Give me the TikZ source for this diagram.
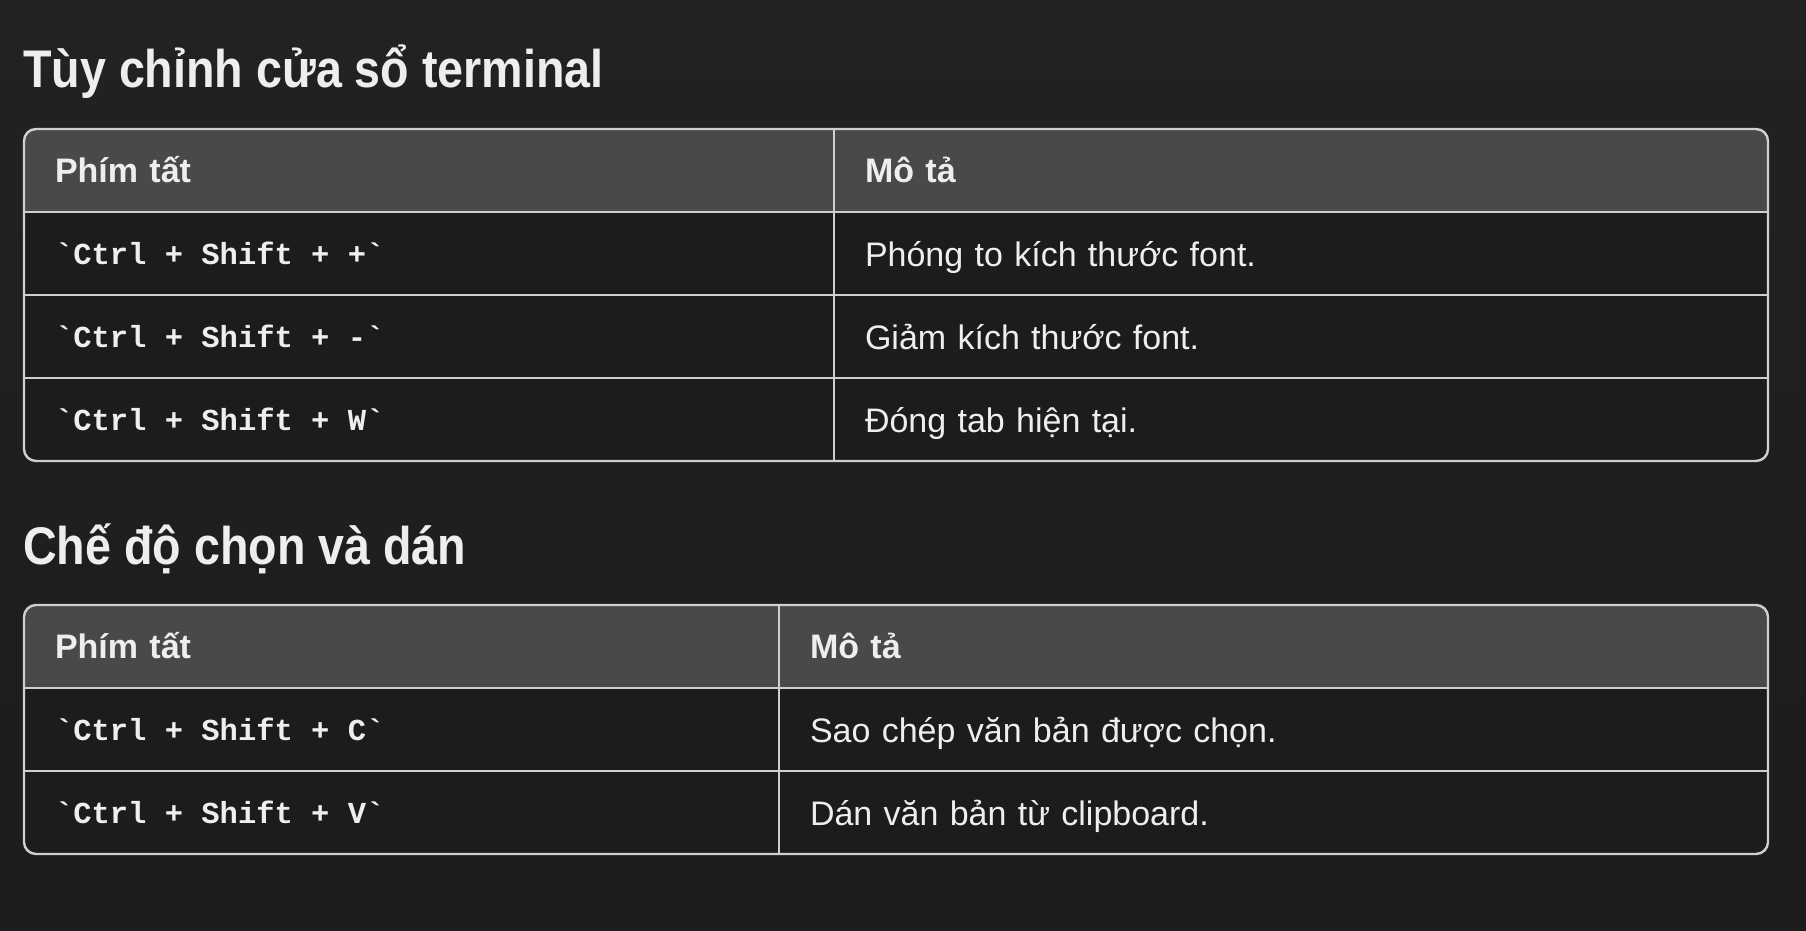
\documentclass[tikz,border=0pt]{standalone}
\usepackage{fontspec}
\setmainfont{Liberation Sans}
\setmonofont{Liberation Mono}
\newfontfamily\headfont[FakeStretch=0.88]{Liberation Sans}
\usepackage{xcolor}
\usetikzlibrary{positioning}

\definecolor{pagetop}{HTML}{222222}
\definecolor{pagebot}{HTML}{1C1C1C}
\definecolor{headbg}{HTML}{494949}
\definecolor{rowbg}{HTML}{1C1C1C}
\definecolor{rule}{HTML}{CFCFCF}
\definecolor{ink}{HTML}{EEEEEE}

% one full monospace cell between the parts of a shortcut
\newcommand{\ks}{\hspace*{0.6em}}

\begin{document}
\begin{tikzpicture}[
            x=1pt, y=-1pt,
            title/.style={anchor=base west, inner sep=0pt, text=ink,
                font=\headfont\bfseries\fontsize{53}{60}\selectfont},
            cell/.style={anchor=north west, inner xsep=31pt, inner ysep=0pt, outer sep=0pt,
                minimum height=83pt, align=left, text=ink, text depth=0pt},
            headcell/.style={cell, fill=headbg, text height=24pt,
                font=\bfseries\fontsize{34}{40}\selectfont},
            desccell/.style={cell, fill=rowbg, text height=25pt,
                font=\fontsize{34}{41}\selectfont},
            keycell/.style={cell, fill=rowbg, text height=22pt,
                font=\ttfamily\bfseries\fontsize{30.5}{36}\selectfont},
            gridline/.style={draw=rule, line width=2.4pt},
        ]
            \shade[top color=pagetop, bottom color=pagebot] (0,0) rectangle (1806,931);
            \useasboundingbox (0,0) rectangle (1806,931);

            % first table
            \node[title] (title1) at (23,88) {Tùy chỉnh cửa sổ terminal};
            \coordinate (t1nw) at (24,129);
            \coordinate (t1se) at (1768,461);
            \begin{scope}
                \clip[rounded corners=12pt] (t1nw) rectangle (t1se);
                \node[headcell, minimum width=810pt, text width=748pt] (t1h1) at (t1nw) {Phím tất};
                \node[headcell, minimum width=934pt, text width=872pt] (t1h2) at (t1h1.north east) {Mô tả};
                \node[keycell, minimum width=810pt, text width=748pt] (t1r1a) at (t1h1.south west) {`Ctrl\ks+\ks Shift\ks+\ks+`};
                \node[desccell, minimum width=934pt, text width=872pt] (t1r1b) at (t1r1a.north east) {Phóng to kích thước font.};
                \node[keycell, minimum width=810pt, text width=748pt] (t1r2a) at (t1r1a.south west) {`Ctrl\ks+\ks Shift\ks+\ks-`};
                \node[desccell, minimum width=934pt, text width=872pt] (t1r2b) at (t1r2a.north east) {Giảm kích thước font.};
                \node[keycell, minimum width=810pt, text width=748pt] (t1r3a) at (t1r2a.south west) {`Ctrl\ks+\ks Shift\ks+\ks W`};
                \node[desccell, minimum width=934pt, text width=872pt] (t1r3b) at (t1r3a.north east) {Đóng tab hiện tại.};
            \end{scope}
            \draw[gridline] (t1h1.south west) -- (t1h2.south east);
            \draw[gridline] (t1r1a.south west) -- (t1r1b.south east);
            \draw[gridline] (t1r2a.south west) -- (t1r2b.south east);
            \draw[gridline] (t1h1.north east) -- (t1r3a.south east);
            \draw[gridline, rounded corners=12pt] (t1nw) rectangle (t1se);

            % second table
            \node[title] (title2) at (23,564) {Chế độ chọn và dán};
            \coordinate (t2nw) at (24,605);
            \coordinate (t2se) at (1768,854);
            \begin{scope}
                \clip[rounded corners=12pt] (t2nw) rectangle (t2se);
                \node[headcell, minimum width=755pt, text width=693pt] (t2h1) at (t2nw) {Phím tất};
                \node[headcell, minimum width=989pt, text width=927pt] (t2h2) at (t2h1.north east) {Mô tả};
                \node[keycell, minimum width=755pt, text width=693pt] (t2r1a) at (t2h1.south west) {`Ctrl\ks+\ks Shift\ks+\ks C`};
                \node[desccell, minimum width=989pt, text width=927pt] (t2r1b) at (t2r1a.north east) {Sao chép văn bản được chọn.};
                \node[keycell, minimum width=755pt, text width=693pt] (t2r2a) at (t2r1a.south west) {`Ctrl\ks+\ks Shift\ks+\ks V`};
                \node[desccell, minimum width=989pt, text width=927pt] (t2r2b) at (t2r2a.north east) {Dán văn bản từ clipboard.};
            \end{scope}
            \draw[gridline] (t2h1.south west) -- (t2h2.south east);
            \draw[gridline] (t2r1a.south west) -- (t2r1b.south east);
            \draw[gridline] (t2h1.north east) -- (t2r2a.south east);
            \draw[gridline, rounded corners=12pt] (t2nw) rectangle (t2se);
        \end{tikzpicture}
\end{document}
